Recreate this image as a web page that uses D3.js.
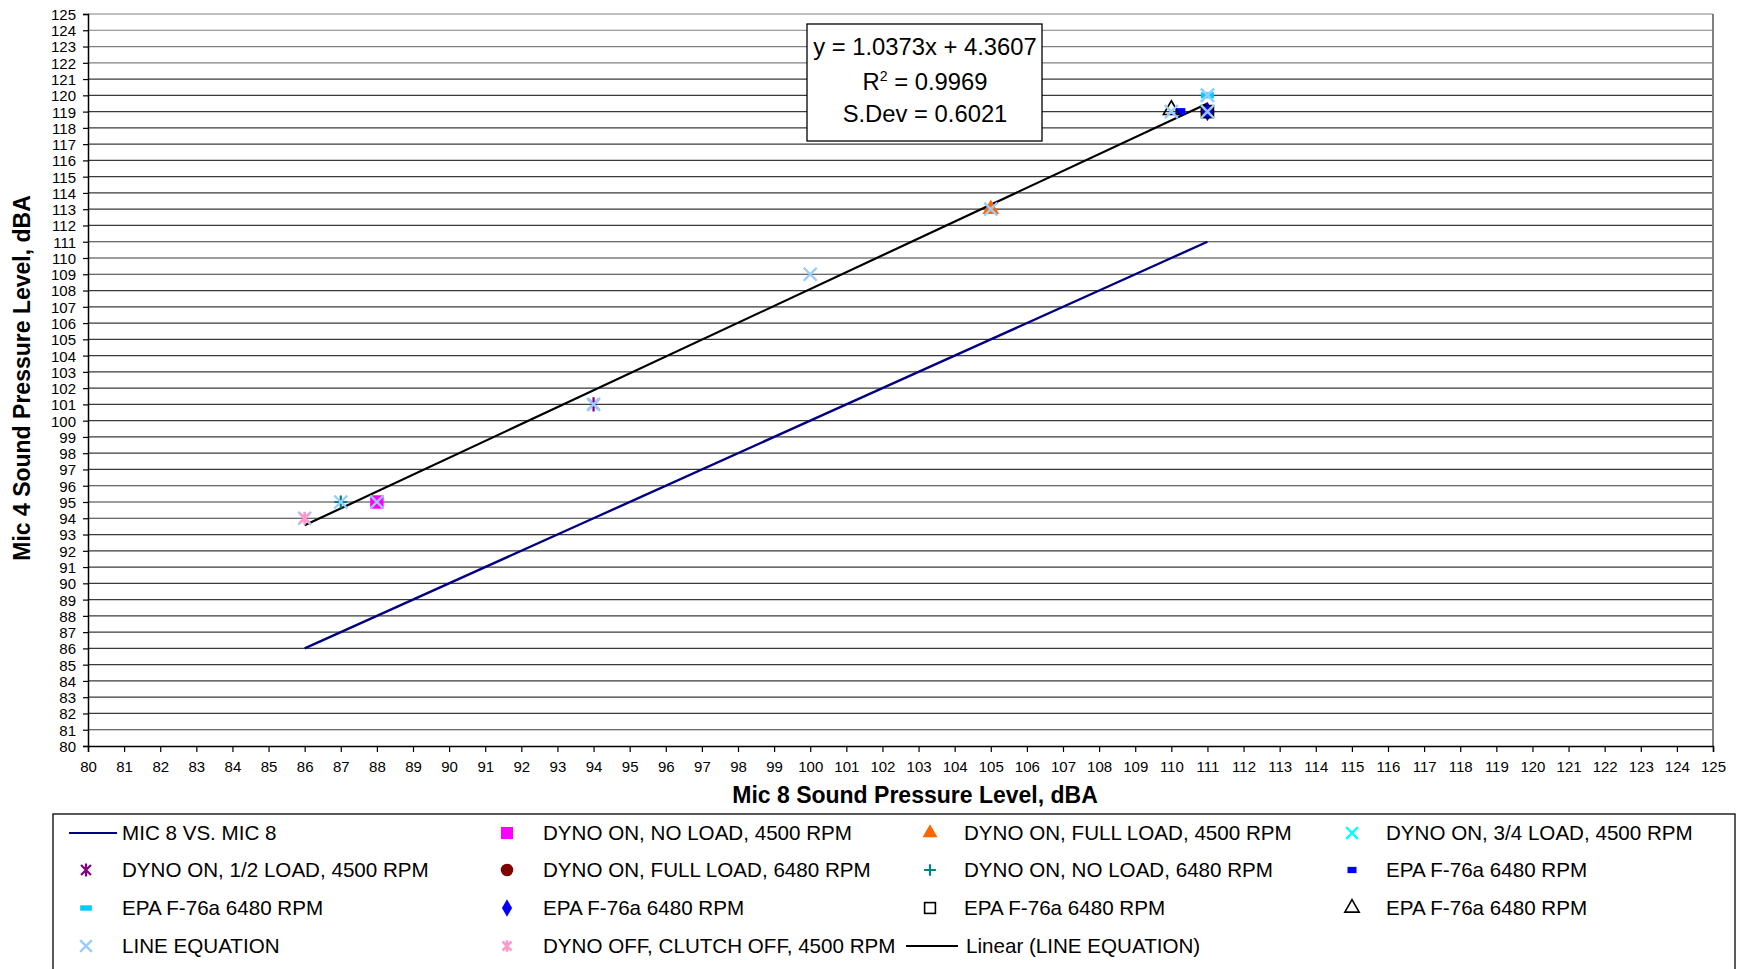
<!DOCTYPE html>
<html><head><meta charset="utf-8">
<script src="https://cdn.jsdelivr.net/npm/d3@7"></script>
<style>
html,body{margin:0;padding:0;background:#fff;}
text{font-family:"Liberation Sans",Arial,sans-serif;}
</style></head>
<body><svg id="chart" width="1750" height="969"></svg>
<script>
// ---------- DATA ----------
const xDomain = [80, 125];
const yDomain = [80, 125];
const xTickValues = d3.range(80, 126);
const yTickValues = d3.range(80, 126);

const mic8X = [86, 87, 88, 94, 100, 105, 110, 111];
const mic8Y = [86, 87, 88, 94, 100, 105, 110, 111];

const noLoad4500 = [[88, 95]];
const fullLoad4500 = [[105, 113]];
const threeQuarter4500 = [[111, 120]];
const half4500 = [[94, 101]];
const fullLoad6480 = [[111, 119]];
const noLoad6480 = [[87, 95]];
const epaBlueDash = [[110.25, 119]];
const epaCyanDash = [[111, 120]];
const epaDiamond = [[111, 119]];
const epaSquare = [[111, 119]];
const epaTriangle = [[110, 119.1]];
const dynoOff = [[86, 94]];

const lineEqX = [86, 87, 88, 94, 100, 105, 110, 111, 111];
const lineEqY = [94, 95, 95, 101, 109, 113, 119, 119, 120];

const trendSlope = 1.0373, trendIntercept = 4.3607;
const trendRange = [86, 111];
const eqLines = ["y = 1.0373x + 4.3607", "R2 = 0.9969", "S.Dev = 0.6021"];

const legendNames = [
  "MIC 8 VS. MIC 8", "DYNO ON, NO LOAD, 4500 RPM", "DYNO ON, FULL LOAD, 4500 RPM", "DYNO ON, 3/4 LOAD, 4500 RPM",
  "DYNO ON, 1/2 LOAD, 4500 RPM", "DYNO ON, FULL LOAD, 6480 RPM", "DYNO ON, NO LOAD, 6480 RPM", "EPA F-76a 6480 RPM",
  "EPA F-76a 6480 RPM", "EPA F-76a 6480 RPM", "EPA F-76a 6480 RPM", "EPA F-76a 6480 RPM",
  "LINE EQUATION", "DYNO OFF, CLUTCH OFF, 4500 RPM", "Linear (LINE EQUATION)"
];
const legendKinds = ["line-navy","square-mag","tri-orange","x-cyan",
  "ast-purple","circle-red","plus-teal","dash-blue",
  "dash-cyan","diamond-blue","osquare","otri",
  "x-light","ast-pink","line-black"];

// ---------- LAYOUT ----------
const svg = d3.select("#chart");
const L = 88, R = 1713, T = 14, B = 746;
const x = d3.scaleLinear().domain(xDomain).range([L, R]);
const y = d3.scaleLinear().domain(yDomain).range([B, T]);

// gridlines
svg.append("g").selectAll("line").data(yTickValues.filter(v => v > 80)).join("line")
  .attr("x1", L).attr("x2", R).attr("y1", d => y(d)).attr("y2", d => y(d))
  .attr("stroke", d => d >= 122 ? "#808080" : "#3a3a3a").attr("stroke-width", 1.2);
// right border
svg.append("line").attr("x1", R).attr("x2", R).attr("y1", T).attr("y2", B)
  .attr("stroke", "#808080").attr("stroke-width", 2);

// axes
const xAxis = d3.axisBottom(x).tickValues(xTickValues).tickSize(6).tickPadding(9).tickFormat(d3.format("d"));
const yAxis = d3.axisLeft(y).tickValues(yTickValues).tickSize(5).tickPadding(7).tickFormat(d3.format("d"));
const gx = svg.append("g").attr("transform", `translate(0,${B})`).call(xAxis);
const gy = svg.append("g").attr("transform", `translate(${L},0)`).call(yAxis);
[gx, gy].forEach(g => {
  g.select(".domain").attr("stroke", "#000").attr("stroke-width", 1.5);
  g.selectAll(".tick line").attr("stroke", "#000").attr("stroke-width", 1.2);
  g.selectAll(".tick text").attr("font-size", 15).attr("fill", "#000")
    .attr("font-family", "'Liberation Sans',Arial,sans-serif");
});
gy.selectAll(".tick text").attr("dy", "0.36em");

// axis titles
svg.append("text").attr("x", 915).attr("y", 803).attr("text-anchor", "middle")
  .attr("font-size", 23).attr("font-weight", "bold").text("Mic 8 Sound Pressure Level, dBA");
svg.append("text").attr("transform", "translate(30,378) rotate(-90)").attr("text-anchor", "middle")
  .attr("font-size", 23).attr("font-weight", "bold").text("Mic 4 Sound Pressure Level, dBA");

// ---------- MARKERS ----------
function xPath(s){ return `M${-s},${-s}L${s},${s}M${-s},${s}L${s},${-s}`; }
function astPath(s){ return `M${-s},${-s}L${s},${s}M${-s},${s}L${s},${-s}M0,${-s*1.3}L0,${s*1.3}`; }
function plusPath(s){ return `M${-s},0L${s},0M0,${-s}L0,${s}`; }
function drawMarker(g, kind, cx, cy, scale) {
  const k = scale || 1;
  const t = `translate(${cx},${cy})`;
  switch (kind) {
    case "square-mag":
      g.append("path").attr("transform", t).attr("d", d3.symbol(d3.symbolSquare, 180*k*k)()).attr("fill", "#ff00ff"); break;
    case "tri-orange":
      g.append("path").attr("transform", t).attr("d", d3.symbol(d3.symbolTriangle, 120*k*k)()).attr("fill", "#ff6600"); break;
    case "x-cyan":
      g.append("path").attr("transform", t).attr("d", xPath(6.5*k)).attr("stroke", "#00ffff").attr("stroke-width", 2.2).attr("fill", "none"); break;
    case "ast-purple":
      g.append("path").attr("transform", t).attr("d", astPath(5.5*k)).attr("stroke", "#800080").attr("stroke-width", 2.2).attr("fill", "none"); break;
    case "circle-red":
      g.append("path").attr("transform", t).attr("d", d3.symbol(d3.symbolCircle, 150*k*k)()).attr("fill", "#800000"); break;
    case "plus-teal":
      g.append("path").attr("transform", t).attr("d", plusPath(6.5*k)).attr("stroke", "#008080").attr("stroke-width", 2.2).attr("fill", "none"); break;
    case "dash-blue":
      g.append("rect").attr("x", cx - 5*k).attr("y", cy - 3.5*k).attr("width", 10*k).attr("height", 7*k).attr("fill", "#0000ff"); break;
    case "dash-cyan":
      g.append("rect").attr("x", cx - 6.5*k).attr("y", cy - 3*k).attr("width", 13*k).attr("height", 6*k).attr("fill", "#00ccff"); break;
    case "diamond-blue":
      g.append("path").attr("transform", t).attr("d", d3.symbol(d3.symbolDiamond, 110*k*k)()).attr("fill", "#0000ff"); break;
    case "osquare":
      g.append("rect").attr("x", cx - 6*k).attr("y", cy - 6*k).attr("width", 12*k).attr("height", 12*k)
        .attr("fill", "none").attr("stroke", "#000").attr("stroke-width", 1.6); break;
    case "otri":
      g.append("path").attr("transform", t).attr("d", d3.symbol(d3.symbolTriangle, 110*k*k)())
        .attr("fill", "none").attr("stroke", "#000").attr("stroke-width", 1.6); break;
    case "x-light":
      g.append("path").attr("transform", t).attr("d", xPath(6.5*k)).attr("stroke", "#99ccff").attr("stroke-width", 2.4).attr("fill", "none"); break;
    case "ast-pink":
      g.append("path").attr("transform", t).attr("d", astPath(5*k)).attr("stroke", "#ff99cc").attr("stroke-width", 2.6).attr("fill", "none"); break;
  }
}

// ---------- LINES ----------
const lineGen = d3.line().x(d => x(d[0])).y(d => y(d[1]));
svg.append("path").datum(mic8X.map((v, i) => [v, mic8Y[i]]))
  .attr("d", lineGen).attr("fill", "none").attr("stroke", "#000080").attr("stroke-width", 2.4);
svg.append("path").datum(trendRange.map(v => [v, trendSlope * v + trendIntercept]))
  .attr("d", lineGen).attr("fill", "none").attr("stroke", "#000").attr("stroke-width", 2.2);

// ---------- POINTS ----------
const gp = svg.append("g");
const pointSeries = [
  [noLoad4500, "square-mag"], [fullLoad4500, "tri-orange"], [half4500, "ast-purple"],
  [fullLoad6480, "circle-red"], [noLoad6480, "plus-teal"], [epaBlueDash, "dash-blue"],
  [epaDiamond, "diamond-blue"], [epaSquare, "osquare"], [epaTriangle, "otri"],
  [threeQuarter4500, "x-cyan"], [epaCyanDash, "dash-cyan"]
];
pointSeries.forEach(([pts, kind]) => pts.forEach(p => drawMarker(gp, kind, x(p[0]), y(p[1]))));
lineEqX.forEach((v, i) => drawMarker(gp, "x-light", x(v), y(lineEqY[i])));
dynoOff.forEach(p => drawMarker(gp, "ast-pink", x(p[0]), y(p[1])));

// ---------- EQUATION BOX ----------
svg.append("rect").attr("x", 807).attr("y", 24).attr("width", 235).attr("height", 117)
  .attr("fill", "#fff").attr("stroke", "#000").attr("stroke-width", 1.3);
const eqT = svg.append("g").attr("font-size", 23.8).attr("text-anchor", "middle");
eqT.append("text").attr("x", 925).attr("y", 55).text(eqLines[0]);
const r2 = eqT.append("text").attr("x", 925).attr("y", 90);
r2.append("tspan").text("R");
r2.append("tspan").attr("font-size", 14).attr("dy", -9).text("2");
r2.append("tspan").attr("dy", 9).text(" = 0.9969");
eqT.append("text").attr("x", 925).attr("y", 122).text(eqLines[2]);

// ---------- LEGEND ----------
svg.append("rect").attr("x", 53).attr("y", 814).attr("width", 1682).attr("height", 170)
  .attr("fill", "#fff").attr("stroke", "#000").attr("stroke-width", 1.3);
const colMarker = [86, 507, 930, 1352];
const colText = [122, 543, 964, 1386];
const rowY = [833, 870, 908, 946];
const gl = svg.append("g");
legendNames.forEach((name, i) => {
  const r = Math.floor(i / 4), c = i % 4;
  const cy = rowY[r];
  const kind = legendKinds[i];
  let tx = colText[c];
  if (kind === "line-navy") {
    gl.append("line").attr("x1", 69).attr("x2", 117).attr("y1", cy).attr("y2", cy).attr("stroke", "#000080").attr("stroke-width", 2);
  } else if (kind === "line-black") {
    gl.append("line").attr("x1", 906).attr("x2", 958).attr("y1", cy).attr("y2", cy).attr("stroke", "#000").attr("stroke-width", 2);
    tx = 966;
  } else {
    drawMarker(gl, kind, colMarker[c], cy, 0.9);
  }
  gl.append("text").attr("x", tx).attr("y", cy).attr("dy", "0.36em").attr("font-size", 20.6).text(name);
});
</script></body></html>
